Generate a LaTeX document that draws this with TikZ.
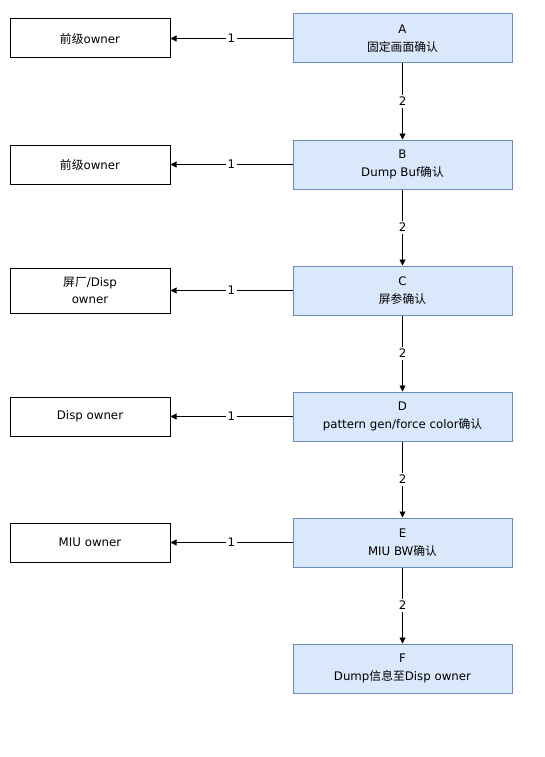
\documentclass[tikz,border=0pt]{standalone}
\usepackage{fontspec}
\setmainfont{DejaVu Sans}
\newfontfamily\cjk{Noto Sans CJK SC}
\usetikzlibrary{arrows.meta}
\definecolor{stepblue}{HTML}{6C8EBF}
\definecolor{stepfill}{HTML}{DAE8FC}
\begin{document}
\begin{tikzpicture}[x=1pt,y=-1pt,
  font=\fontsize{11.8}{17.5}\selectfont,
  stepbox/.style={draw=stepblue, fill=stepfill, minimum width=219pt, minimum height=49pt, align=center, inner sep=0pt, line width=1pt},
  ownerbox/.style={draw=black, fill=white, minimum width=160pt, minimum height=39pt, align=center, inner sep=0pt, line width=1pt},
  conn/.style={-{Triangle[length=6pt,width=6pt]}, line width=0.9pt},
  lbl/.style={fill=white, inner sep=2pt, font=\fontsize{11.8}{12}\selectfont}]
\useasboundingbox[fill=white] (0,0) rectangle (545,757);

\node[stepbox] (A) at (402.5,38.5) {A\\{\cjk 固定画面确认}};
\node[stepbox] (B) at (402.5,164.5) {B\\Dump Buf{\cjk 确认}};
\node[stepbox] (C) at (402.5,290.5) {C\\{\cjk 屏参确认}};
\node[stepbox] (D) at (402.5,416.5) {D\\pattern gen/force color{\cjk 确认}};
\node[stepbox] (E) at (402.5,542.5) {E\\MIU BW{\cjk 确认}};
\node[stepbox] (F) at (402.5,668.5) {F\\Dump{\cjk 信息至}Disp owner};

\node[ownerbox] (oA) at (90,38.5) {{\cjk 前级}owner};
\node[ownerbox] (oB) at (90,164.5) {{\cjk 前级}owner};
\node[ownerbox, minimum height=45pt] (oC) at (90,290.5) {{\cjk 屏厂}/Disp\\[-1pt]owner};
\node[ownerbox] (oD) at (90,416.5) {Disp owner};
\node[ownerbox] (oE) at (90,542.5) {MIU owner};

\foreach \s in {A,B,C,D,E}{
  \draw[conn] (\s.west) -- node[lbl] {1} (o\s.east);
}
\draw[conn] (A.south) -- node[lbl] {2} (B.north);
\draw[conn] (B.south) -- node[lbl] {2} (C.north);
\draw[conn] (C.south) -- node[lbl] {2} (D.north);
\draw[conn] (D.south) -- node[lbl] {2} (E.north);
\draw[conn] (E.south) -- node[lbl] {2} (F.north);
\end{tikzpicture}
\end{document}
